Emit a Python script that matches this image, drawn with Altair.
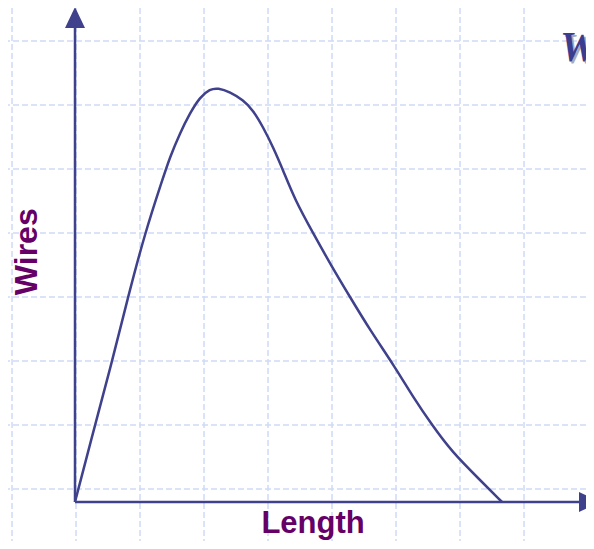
import altair as alt
import pandas as pd

# Curve: wire count vs. wire length (grid units)
length = [0.0, 0.3125, 0.578, 0.828, 1.094, 1.359, 1.484, 1.641, 1.797, 1.953, 2.109,
          2.234, 2.422, 2.625, 2.781, 2.938, 3.094, 3.25, 3.4375, 3.719, 4.016, 4.297,
          4.609, 5.0, 5.281, 5.578, 5.891, 6.328, 6.672]
wires = [0.0, 1.203, 2.1875, 3.203, 4.203, 5.016, 5.391, 5.766, 6.078, 6.328, 6.453,
         6.469, 6.406, 6.281, 6.125, 5.859, 5.547, 5.1875, 4.719, 4.203, 3.672, 3.203,
         2.6875, 2.109, 1.641, 1.203, 0.781, 0.344, 0.0]

# background grid positions
grid_x = [-0.984 + k for k in range(10)]
grid_y = [7.203 - k for k in range(8)]

# axis extents
y_axis_top = 7.406
x_axis_end = 7.875

W_C, H_C = 578, 533
x_dom = [(8 - 75) / 64, (8 + W_C - 75) / 64]
y_dom = [(502 - 8 - H_C) / 64, (502 - 8) / 64]

xs = alt.Scale(domain=x_dom, nice=False, zero=False)
ys = alt.Scale(domain=y_dom, nice=False, zero=False)

GRID = "#cfdaf6"
INK = "#3f418c"
PURPLE = "#660066"

vgrid = alt.Chart(pd.DataFrame({"x": grid_x})).mark_rule(
    color=GRID, strokeWidth=1.5, strokeDash=[6, 3]
).encode(x=alt.X("x:Q", scale=xs, axis=None))

hgrid = alt.Chart(pd.DataFrame({"y": grid_y})).mark_rule(
    color=GRID, strokeWidth=1.5, strokeDash=[6, 3]
).encode(y=alt.Y("y:Q", scale=ys, axis=None))

yaxis = alt.Chart(pd.DataFrame({"x": [0.0], "y": [0.0], "y2": [y_axis_top]})).mark_rule(
    color=INK, strokeWidth=2.5
).encode(x=alt.X("x:Q", scale=xs, axis=None), y=alt.Y("y:Q", scale=ys, axis=None), y2="y2:Q")

xaxis = alt.Chart(pd.DataFrame({"x": [0.0], "x2": [x_axis_end], "y": [0.0]})).mark_rule(
    color=INK, strokeWidth=2.5
).encode(x=alt.X("x:Q", scale=xs, axis=None), x2="x2:Q", y=alt.Y("y:Q", scale=ys, axis=None))

arrow_up = alt.Chart(pd.DataFrame({"x": [0.0], "y": [y_axis_top]})).mark_point(
    shape="M0,-2.1L-1,0L1,0Z", filled=True, size=400, color=INK, opacity=1
).encode(x=alt.X("x:Q", scale=xs, axis=None), y=alt.Y("y:Q", scale=ys, axis=None))

arrow_right = alt.Chart(pd.DataFrame({"x": [x_axis_end], "y": [0.0]})).mark_point(
    shape="M0,-1L2.1,0L0,1Z", filled=True, size=400, color=INK, opacity=1
).encode(x=alt.X("x:Q", scale=xs, axis=None), y=alt.Y("y:Q", scale=ys, axis=None))

curve = alt.Chart(pd.DataFrame({"length": length, "wires": wires})).mark_line(
    color=INK, strokeWidth=2.5, interpolate="basis"
).encode(
    x=alt.X("length:Q", scale=xs, axis=None),
    y=alt.Y("wires:Q", scale=ys, axis=None),
    order="length:Q",
)

ylab = alt.Chart(pd.DataFrame({"x": [-0.75], "y": [3.91], "t": ["Wires"]})).mark_text(
    font="Liberation Sans", fontWeight="bold", fontSize=32, color=PURPLE,
    angle=270, align="center", baseline="middle"
).encode(x=alt.X("x:Q", scale=xs, axis=None), y=alt.Y("y:Q", scale=ys, axis=None), text="t:N")

xlab = alt.Chart(pd.DataFrame({"x": [3.72], "y": [-0.48], "t": ["Length"]})).mark_text(
    font="Liberation Sans", fontWeight="bold", fontSize=31, color=PURPLE,
    align="center", baseline="alphabetic"
).encode(x=alt.X("x:Q", scale=xs, axis=None), y=alt.Y("y:Q", scale=ys, axis=None), text="t:N")

title_shadow = alt.Chart(pd.DataFrame({"x": [7.61], "y": [6.86], "t": ["W"]})).mark_text(
    font="Liberation Serif", fontWeight="bold", fontStyle="italic", fontSize=42,
    color="#a9a9bf", align="left", baseline="alphabetic"
).encode(x=alt.X("x:Q", scale=xs, axis=None), y=alt.Y("y:Q", scale=ys, axis=None), text="t:N")

title = alt.Chart(pd.DataFrame({"x": [7.578], "y": [6.89], "t": ["W"]})).mark_text(
    font="Liberation Serif", fontWeight="bold", fontStyle="italic", fontSize=42,
    color="#3b3d8e", align="left", baseline="alphabetic"
).encode(x=alt.X("x:Q", scale=xs, axis=None), y=alt.Y("y:Q", scale=ys, axis=None), text="t:N")

chart = alt.layer(
    vgrid, hgrid, yaxis, xaxis, arrow_up, arrow_right, curve, ylab, xlab, title_shadow, title
).properties(
    width=W_C, height=H_C, autosize=alt.AutoSizeParams(type="none"), padding=0,
    background="white"
).configure_view(strokeWidth=0)

chart.save("out.html", embed_options={"renderer": "svg", "actions": False})
